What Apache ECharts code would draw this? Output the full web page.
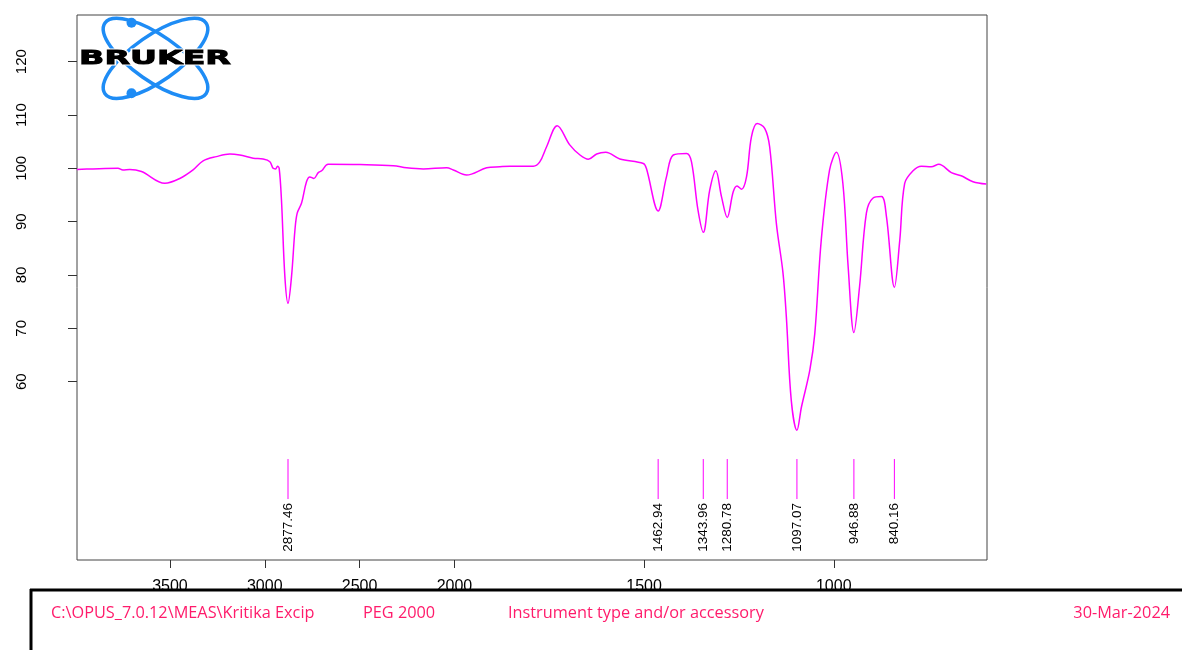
<!DOCTYPE html>
<html>
<head>
<meta charset="utf-8">
<script src="https://cdn.jsdelivr.net/npm/echarts@6/dist/echarts.min.js"></script>
<style>
html,body{margin:0;padding:0;background:#fff;}
#chart{width:1182px;height:650px;}
</style>
</head>
<body>
<div id="chart"></div>
<script>
// ---- data (wavenumber in cm-1, transmittance in %) ----
const wavenumbers = [3990,3906,3774,3748,3712,3650,3527,3448,3378,3325,3255,3184,3132,3061,3009,2973,2956,2943,2933,2924,2912,2894,2877.46,2859,2841,2829,2806,2780,2762,2741,2718,2700,2666,2498,2322,2252,2164,2041,2006,1968,1915,1880,1854,1792,1775,1757,1729,1696,1669,1647,1625,1601,1564,1502,1494,1462.94,1441,1423,1388,1375,1358,1343.96,1327,1311,1296,1280.78,1265,1255,1243,1230,1217,1202,1182,1169,1151,1134,1125,1112,1097.07,1085,1063,1050,1033,1011,993,976,962,946.88,932,914,897,874,861,840.16,826,813,791,769,743,723,690,664,633,598];
const transmittance = [99.8,99.9,100.0,99.7,99.8,99.4,97.2,98.1,99.7,101.4,102.2,102.7,102.5,101.9,101.75,101.25,100.0,99.9,100.4,100.0,94.1,79.7,74.7,79.7,88.4,91.6,93.5,97.5,98.4,98.1,99.2,99.55,100.75,100.7,100.5,100.1,99.9,100.1,99.7,98.75,100.1,100.3,100.4,100.4,101.2,104.05,108.0,104.4,102.5,101.7,102.7,103.0,101.75,100.9,100.0,92.0,98.4,102.5,102.8,101.2,92.2,88.0,95.9,99.55,94.7,90.8,95.6,96.7,96.1,98.4,105.9,108.4,107.5,104.05,89.5,80.5,72.2,56.5,50.9,55.3,62.2,69.0,86.5,99.7,103.0,97.2,81.5,69.2,77.8,91.6,94.4,94.7,90.9,77.7,86.5,97.2,99.55,100.4,100.3,100.75,99.2,98.6,97.5,97.05];
const peakPositions = [2877.46,1462.94,1343.96,1280.78,1097.07,946.88,840.16];
const xTickLabels = [3500,3000,2500,2000,1500,1000];
const yTickLabels = [60,70,80,90,100,110,120];
const footerTexts = ['C:\\OPUS_7.0.12\\MEAS\\Kritika Excip','PEG 2000','Instrument type and/or accessory','30-Mar-2024'];

// OPUS-style axis: scale above 2000 cm-1 is compressed by a factor 2
function toU(w){ return w >= 2000 ? (4000 - w) / 2 : 3000 - w; }
function toW(u){ return u <= 1000 ? 4000 - 2 * u : 3000 - u; }

const lineData = wavenumbers.map((w, i) => [toU(w), transmittance[i]]);
const peakData = peakPositions.map(w => [toU(w), w]);

const chart = echarts.init(document.getElementById('chart'), null, {renderer: 'canvas'});
const MAG = '#ff00ff';
const BLUE = '#1e8cf5';
const FOOT = '#ff1b6b';
const FOOT_FONT = '16.3px "Open Sans", sans-serif';

const option = {
  animation: false,
  backgroundColor: '#ffffff',
  grid: {left: 77, right: 195, top: 15, bottom: 90, show: true, borderColor: '#444', borderWidth: 1, backgroundColor: 'transparent'},
  xAxis: {
    type: 'value', min: 5, max: 2404,
    axisLine: {show: false},
    splitLine: {show: false},
    axisTick: {show: true, length: 8, lineStyle: {color: '#333', width: 1}, customValues: xTickLabels.map(toU)},
    axisLabel: {show: true, margin: 19, fontSize: 16, color: '#000', fontFamily: 'Liberation Sans, Arial, sans-serif',
      customValues: xTickLabels.map(toU), formatter: v => String(Math.round(toW(v)))}
  },
  yAxis: {
    type: 'value', min: 26.57, max: 128.75,
    axisLine: {show: false},
    splitLine: {show: false},
    axisTick: {show: true, length: 9, lineStyle: {color: '#333', width: 1}, customValues: yTickLabels},
    axisLabel: {show: true, rotate: 90, margin: 48, fontSize: 15, color: '#000', fontFamily: 'Liberation Sans, Arial, sans-serif',
      customValues: yTickLabels}
  },
  series: [
    {
      type: 'line', data: lineData, smooth: 0.35, symbol: 'none',
      lineStyle: {color: MAG, width: 1.5}, clip: true
    },
    {
      type: 'custom', data: peakData, clip: false,
      renderItem: function(params, api){
        const u = api.value(0);
        const top = api.coord([u, 45.5]);
        const bot = api.coord([u, 38.0]);
        return {
          type: 'group',
          children: [
            {type: 'line', shape: {x1: top[0], y1: top[1], x2: bot[0], y2: bot[1]}, style: {stroke: MAG, lineWidth: 1}},
            {type: 'text', x: bot[0], y: bot[1] + 4, rotation: Math.PI / 2,
              style: {text: api.value(1).toFixed(2), fill: '#000', font: '13.5px "Liberation Sans", Arial, sans-serif', align: 'right', verticalAlign: 'middle'}}
          ]
        };
      }
    }
  ],
  graphic: [
    // Bruker logo
    {type: 'ellipse', x: 155.5, y: 58.3, rotation: 35 * Math.PI / 180, shape: {cx: 0, cy: 0, rx: 61.7, ry: 22.8}, style: {fill: 'none', stroke: BLUE, lineWidth: 3.5}, z: 50},
    {type: 'ellipse', x: 155.5, y: 58.3, rotation: -35 * Math.PI / 180, shape: {cx: 0, cy: 0, rx: 61.7, ry: 22.8}, style: {fill: 'none', stroke: BLUE, lineWidth: 3.5}, z: 50},
    {type: 'circle', shape: {cx: 131.5, cy: 22.7, r: 5}, style: {fill: BLUE}, z: 51},
    {type: 'circle', shape: {cx: 131.5, cy: 93.3, r: 5}, style: {fill: BLUE}, z: 51},
    {type: 'text', x: 155, y: 58.5, scaleX: 1.66, z: 52,
      style: {text: 'BRUKER', fill: '#000', font: 'bold 20px "DejaVu Sans", sans-serif', align: 'center', verticalAlign: 'middle', stroke: '#fff', lineWidth: 3}},
    {type: 'text', x: 155, y: 58.5, scaleX: 1.66, z: 53,
      style: {text: 'BRUKER', fill: '#000', font: 'bold 20px "DejaVu Sans", sans-serif', align: 'center', verticalAlign: 'middle', stroke: '#000', lineWidth: 0.9}},
    // footer
    {type: 'rect', shape: {x: 0, y: 589, width: 1182, height: 61}, style: {fill: '#fff'}, z: 100},
    {type: 'line', shape: {x1: 30, y1: 590, x2: 1182, y2: 590}, style: {stroke: '#000', lineWidth: 3}, z: 101},
    {type: 'line', shape: {x1: 31, y1: 589, x2: 31, y2: 650}, style: {stroke: '#000', lineWidth: 3}, z: 101},
    {type: 'text', x: 51, y: 613, z: 102, style: {text: footerTexts[0], fill: FOOT, font: FOOT_FONT, align: 'left', verticalAlign: 'middle'}},
    {type: 'text', x: 363, y: 613, z: 102, style: {text: footerTexts[1], fill: FOOT, font: FOOT_FONT, align: 'left', verticalAlign: 'middle'}},
    {type: 'text', x: 508, y: 613, z: 102, style: {text: footerTexts[2], fill: FOOT, font: FOOT_FONT, align: 'left', verticalAlign: 'middle'}},
    {type: 'text', x: 1170, y: 613, z: 102, style: {text: footerTexts[3], fill: FOOT, font: FOOT_FONT, align: 'right', verticalAlign: 'middle'}}
  ]
};
chart.setOption(option);
</script>
</body>
</html>
